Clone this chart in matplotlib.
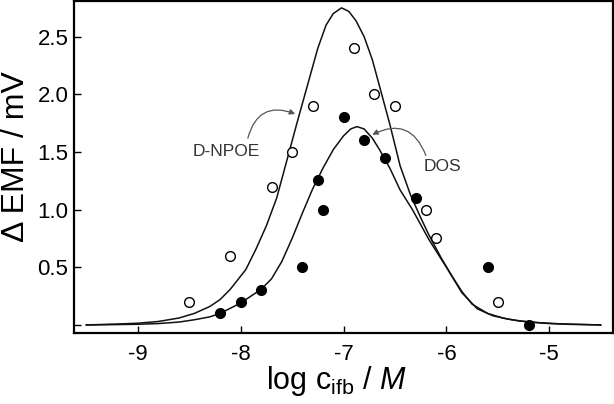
import matplotlib
matplotlib.use("Agg")
import matplotlib.pyplot as plt

plt.rcParams.update({
    "font.family": "Liberation Sans",
    "mathtext.fontset": "custom",
    "mathtext.rm": "Liberation Sans",
    "mathtext.it": "Liberation Sans:italic",
    "font.size": 16,
})

# ---- measured points ------------------------------------------------------
npoe_x = [-8.5, -8.1, -7.7, -7.5, -7.3, -6.9, -6.7, -6.5, -6.2, -6.1, -5.5]
npoe_y = [0.2, 0.6, 1.2, 1.5, 1.9, 2.4, 2.0, 1.9, 1.0, 0.75, 0.2]

dos_x = [-8.2, -8.0, -7.8, -7.4, -7.25, -7.2, -7.0, -6.8, -6.6, -6.3, -5.6, -5.2]
dos_y = [0.1, 0.2, 0.3, 0.5, 1.26, 1.0, 1.8, 1.6, 1.45, 1.1, 0.5, 0.0]

# ---- fitted curves ---------------------------------------------------------
npoe_fit_x = [-9.5, -9.2, -9.0, -8.8, -8.6, -8.45, -8.3, -8.2, -8.1, -7.95,
              -7.85, -7.75, -7.65, -7.55, -7.45, -7.35, -7.25, -7.17, -7.10,
              -7.02, -6.95, -6.88, -6.80, -6.72, -6.65, -6.55, -6.45, -6.35,
              -6.25, -6.17, -6.05, -5.95, -5.85, -5.75, -5.6, -5.45, -5.3,
              -5.1, -4.9, -4.7, -4.5]
npoe_fit_y = [0.0, 0.008, 0.015, 0.03, 0.06, 0.10, 0.16, 0.22, 0.31, 0.48,
              0.66, 0.86, 1.10, 1.43, 1.76, 2.08, 2.40, 2.60, 2.70,
              2.75, 2.72, 2.64, 2.50, 2.30, 2.07, 1.74, 1.38, 1.13,
              0.93, 0.78, 0.58, 0.43, 0.29, 0.18, 0.10, 0.06, 0.035,
              0.02, 0.01, 0.005, 0.0]

dos_fit_x = [-9.5, -9.2, -9.0, -8.8, -8.6, -8.45, -8.3, -8.2, -8.0, -7.8, -7.7,
             -7.6, -7.5, -7.4, -7.3, -7.2, -7.1, -7.0, -6.93, -6.87, -6.8,
             -6.72, -6.65, -6.55, -6.45, -6.33, -6.17, -6.0, -5.85, -5.7,
             -5.55, -5.4, -5.2, -5.0, -4.8, -4.5]
dos_fit_y = [0.0, 0.003, 0.006, 0.012, 0.025, 0.045, 0.07, 0.10, 0.19, 0.31,
             0.40, 0.55, 0.75, 0.97, 1.18, 1.36, 1.52, 1.64, 1.70, 1.72, 1.70,
             1.62, 1.52, 1.36, 1.17, 1.00, 0.74, 0.50, 0.28, 0.14,
             0.08, 0.05, 0.025, 0.012, 0.005, 0.0]

y_ticks = [0, 0.5, 1.0, 1.5, 2.0, 2.5]
y_ticklabels = ["", "0.5", "1.0", "1.5", "2.0", "2.5"]
x_ticks = [-9, -8, -7, -6, -5]
x_ticklabels = ["-9", "-8", "-7", "-6", "-5"]

fig = plt.figure(figsize=(6.14, 4.04), dpi=100)
ax = fig.add_axes([0.1205, 0.1757, 0.878, 0.822])

ax.plot(npoe_fit_x, npoe_fit_y, color="#111111", lw=1.1, zorder=2)
ax.plot(dos_fit_x, dos_fit_y, color="#111111", lw=1.1, zorder=2)
ax.plot(npoe_x, npoe_y, "o", ms=7, mfc="white", mec="black", mew=1.0, zorder=3)
ax.plot(dos_x, dos_y, "o", ms=7, mfc="black", mec="black", zorder=3)

# labels with curved pointers
arrow_kw = dict(arrowstyle="-|>", color="#555555", lw=0.9,
                mutation_scale=8, shrinkA=0, shrinkB=0)
ax.text(-8.14, 1.50, "D-NPOE", fontsize=12.5, color="#333333",
        ha="center", va="center")
ax.annotate("", xy=(-7.47, 1.83), xytext=(-7.93, 1.62),
            arrowprops=dict(connectionstyle="arc3,rad=-0.55", **arrow_kw))
ax.text(-6.04, 1.37, "DOS", fontsize=12.5, color="#333333",
        ha="center", va="center")
ax.annotate("", xy=(-6.72, 1.65), xytext=(-6.20, 1.47),
            arrowprops=dict(connectionstyle="arc3,rad=0.55", **arrow_kw))

ax.set_xlim(-9.62, -4.38)
ax.set_ylim(-0.07, 2.81)
ax.set_xticks(x_ticks)
ax.set_xticklabels(x_ticklabels)
ax.set_yticks(y_ticks)
ax.set_yticklabels(y_ticklabels)
ax.tick_params(direction="in", length=5, width=1, labelsize=16)
ax.tick_params(axis="x", pad=8)
ax.tick_params(axis="y", pad=4)
for s in ax.spines.values():
    s.set_linewidth(1.6)

ax.set_xlabel(r"log c$_{\mathrm{ifb}}$ / $\mathit{M}$", fontsize=22)
ax.set_ylabel("\u0394 EMF / mV", fontsize=23)
ax.xaxis.set_label_coords(0.486, -0.092)
ax.yaxis.set_label_coords(-0.08, 0.53)

fig.savefig("out.png", dpi=100)
